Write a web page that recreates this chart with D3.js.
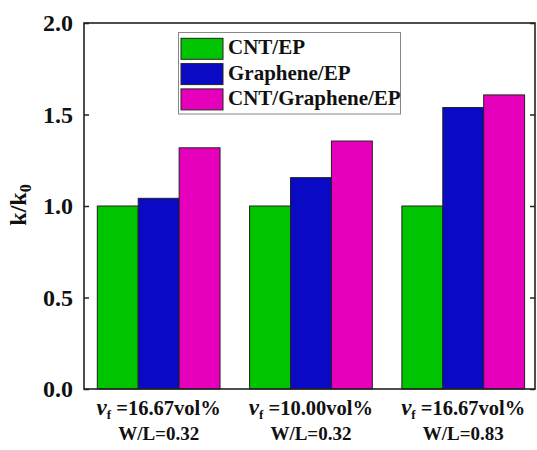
<!DOCTYPE html>
<html><head><meta charset="utf-8">
<script src="https://cdn.jsdelivr.net/npm/d3@7/dist/d3.min.js"></script>
</head>
<body style="margin:0;background:#fff">
<svg id="chart" width="537" height="450" style="display:block"></svg>
<script>
const groups = ["g1","g2","g3"];
const groupLine1 = ["=16.67vol%","=10.00vol%","=16.67vol%"];
const groupLine2 = ["W/L=0.32","W/L=0.32","W/L=0.83"];
const seriesNames = ["CNT/EP","Graphene/EP","CNT/Graphene/EP"];
const seriesColors = ["#00c400","#0a0ac4","#e600bc"];
const cntEP = [1.0, 1.0, 1.0];
const grapheneEP = [1.042, 1.155, 1.538];
const hybridEP = [1.318, 1.355, 1.607];
const yTicks = [0.0, 0.5, 1.0, 1.5, 2.0];

const series = [cntEP, grapheneEP, hybridEP];
const svg = d3.select("#chart");
const L = 84, R = 535, T = 23, B = 389;

const y = d3.scaleLinear().domain([0, 2]).range([B, T]);
const x0 = d3.scaleBand().domain(groups).range([97.3, 524.6]).paddingInner(0.194).paddingOuter(0);
const x1 = d3.scaleBand().domain(seriesNames).range([0, x0.bandwidth()]).padding(0);

groups.forEach((g, gi) => {
  const gg = svg.append("g").attr("transform", `translate(${x0(g)},0)`);
  seriesNames.forEach((s, si) => {
    const v = series[si][gi];
    gg.append("rect")
      .attr("x", x1(s)).attr("width", x1.bandwidth())
      .attr("y", y(v)).attr("height", y(0) - y(v))
      .attr("fill", seriesColors[si])
      .attr("stroke", "#222").attr("stroke-width", 1);
  });
});

const yAxisL = d3.axisLeft(y).tickValues(yTicks).tickFormat(d3.format(".1f")).tickSizeInner(-5).tickSizeOuter(0).tickPadding(11);
const gL = svg.append("g").attr("transform", `translate(${L},0)`).call(yAxisL);
gL.select(".domain").remove();
gL.selectAll("line").attr("stroke", "#222").attr("stroke-width", 1.5);
gL.selectAll("text").style("font-size", "24px").attr("fill", "#111");

const yAxisR = d3.axisRight(y).tickValues(yTicks).tickFormat("").tickSizeInner(-5).tickSizeOuter(0);
const gR = svg.append("g").attr("transform", `translate(${R},0)`).call(yAxisR);
gR.select(".domain").remove();
gR.selectAll("line").attr("stroke", "#222").attr("stroke-width", 1.5);

svg.append("rect").attr("x", L).attr("y", T).attr("width", R - L).attr("height", B - T)
  .attr("fill", "none").attr("stroke", "#222").attr("stroke-width", 1.6);

groups.forEach((g, gi) => {
  const cx = x0(g) + x0.bandwidth() / 2;
  const t1 = svg.append("text").attr("x", cx).attr("y", 415).attr("text-anchor", "middle")
    .style("font-size", "20.5px").attr("fill", "#111");
  t1.append("tspan").style("font-style", "italic").style("font-size", "23px").text("v");
  t1.append("tspan").style("font-size", "13px").attr("dy", 4).text("f");
  t1.append("tspan").attr("dy", -4).text(" " + groupLine1[gi]);
  svg.append("text").attr("x", cx).attr("y", 440).attr("text-anchor", "middle")
    .style("font-size", "19px").attr("fill", "#111").text(groupLine2[gi]);
});

const yt = svg.append("text").attr("transform", "translate(26,205) rotate(-90)")
  .attr("text-anchor", "middle").style("font-size", "24px").attr("fill", "#111");
yt.append("tspan").text("k/k");
yt.append("tspan").style("font-size", "16px").attr("dy", 5).text("0");

const lg = svg.append("g");
lg.append("rect").attr("x", 178.5).attr("y", 32.5).attr("width", 222).attr("height", 81.5)
  .attr("fill", "#fff").attr("stroke", "#888").attr("stroke-width", 1);
seriesNames.forEach((s, i) => {
  const yy = 38.3 + i * 25.3;
  lg.append("rect").attr("x", 181).attr("y", yy).attr("width", 42).attr("height", 21)
    .attr("fill", seriesColors[i]).attr("stroke", "#222").attr("stroke-width", 1);
  lg.append("text").attr("x", 228).attr("y", yy + 16).style("font-size", "21px").attr("fill", "#111").text(s);
});

svg.selectAll("text").style("font-family", "'Liberation Serif'").style("font-weight", "bold");
</script>
</body></html>
